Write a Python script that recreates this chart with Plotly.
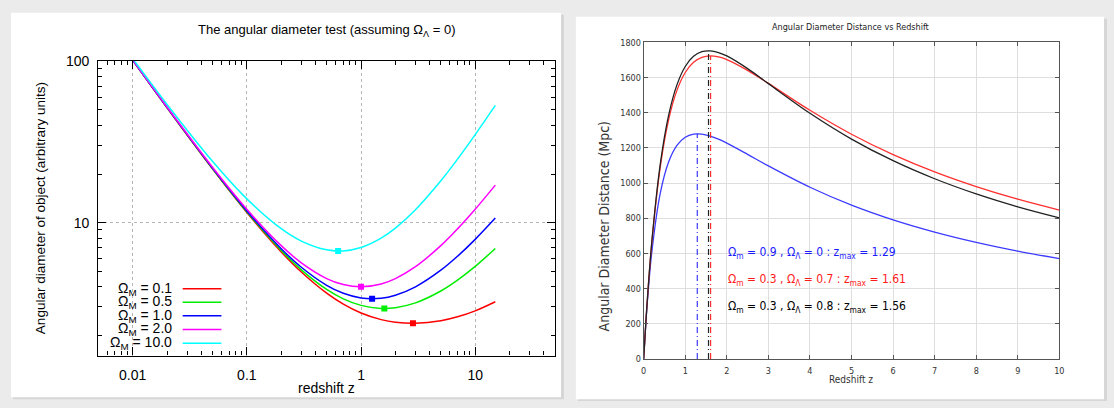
import plotly.graph_objects as go

W, H = 1114, 408


def px(x):
    return x / W


def py(y):
    return 1 - y / H


# ---------------- Left panel data (angular size, Omega_Lambda = 0) ----------------
z_left = [0.01, 0.02, 0.05, 0.1, 0.2, 0.3, 0.5, 0.7, 1.0, 1.5, 2.0, 3.0, 5.0, 7.0, 10.0, 15.0]
theta_om01 = [101.53, 51.53, 21.54, 11.554, 6.581, 4.940, 3.653, 3.124, 2.754, 2.505, 2.412, 2.376, 2.466, 2.608, 2.840, 3.234]
theta_om05 = [101.63, 51.63, 21.65, 11.673, 6.720, 5.099, 3.855, 3.371, 3.070, 2.941, 2.971, 3.183, 3.770, 4.400, 5.353, 6.916]
theta_om10 = [101.76, 51.76, 21.78, 11.818, 6.886, 5.287, 4.087, 3.648, 3.414, 3.401, 3.549, 4.000, 5.070, 6.188, 7.874, 10.667]
theta_om20 = [102.01, 52.02, 22.05, 12.1, 7.2, 5.633, 4.5, 4.129, 4.0, 4.167, 4.5, 5.333, 7.2, 9.143, 12.1, 17.067]
theta_om100 = [103.99, 53.99, 23.99, 14.025, 9.165, 7.682, 6.779, 6.681, 7.009, 8.013, 9.248, 12.023, 18.158, 24.728, 35.093, 53.27]
omega_labels = ["0.1", "0.5", "1.0", "2.0", "10.0"]
z_min = [2.85, 1.6, 1.25, 1.0, 0.63]
theta_min = [2.378, 2.939, 3.375, 4.0, 6.67]
left_colors = ["#ff0000", "#00ee00", "#0000ff", "#ff00ff", "#00ffff"]
left_xticks = [0.01, 0.1, 1, 10]
left_xticklabels = ["0.01", "0.1", "1", "10"]
left_yticks = [10, 100]
left_yticklabels = ["10", "100"]

# ---------------- Right panel data (angular diameter distance, Mpc) ----------------
z_right = [0, 0.05, 0.1, 0.2, 0.4, 0.6, 0.8, 1.0, 1.2, 1.4, 1.6, 1.8, 2.0, 2.5, 3.0, 4, 5, 6, 7, 8, 9, 10]
da_m09_l0 = [0, 194.1, 358.1, 616.1, 942.5, 1119.7, 1214.3, 1260.9, 1278.6, 1278.5, 1267.4, 1249.4, 1227.2,
             1163.4, 1097.4, 976.2, 874.7, 790.9, 721.3, 662.9, 613.2, 570.5]
da_m03_l07 = [0, 198.8, 375.1, 671.0, 1092.6, 1359.5, 1526.9, 1628.6, 1686.5, 1714.8, 1722.9, 1717.3, 1702.3,
              1641.0, 1566.6, 1413.9, 1277.8, 1161.6, 1063.4, 979.8, 908.1, 846.2]
da_m03_l08 = [0, 199.3, 376.8, 676.9, 1109.0, 1385.1, 1558.4, 1662.8, 1720.6, 1746.9, 1751.8, 1742.2, 1722.8,
              1650.8, 1565.5, 1396.9, 1250.2, 1127.2, 1024.6, 938.4, 865.1, 802.3]
z_max = [1.29, 1.61, 1.56]
da_max = [1280.3, 1722.9, 1752.0]
right_colors = ["#3b3bff", "#ff3030", "#222222"]
right_labels = [
    "Ω<sub>m</sub> = 0.9 , Ω<sub>Λ</sub> = 0 : z<sub>max</sub> = 1.29",
    "Ω<sub>m</sub> = 0.3 , Ω<sub>Λ</sub> = 0.7 : z<sub>max</sub> = 1.61",
    "Ω<sub>m</sub> = 0.3 , Ω<sub>Λ</sub> = 0.8 : z<sub>max</sub> = 1.56",
]
right_label_y = [604, 450, 296]
right_xticks = list(range(0, 11))
right_yticks = list(range(0, 1801, 200))

fig = go.Figure()

left_series = [theta_om01, theta_om05, theta_om10, theta_om20, theta_om100]
for vals, col, lab in zip(left_series, left_colors, omega_labels):
    fig.add_trace(go.Scatter(x=z_left, y=vals, mode="lines", line=dict(color=col, width=1.5, shape="spline"),
                             xaxis="x", yaxis="y", name=lab, showlegend=False))
for zm, tm, col in zip(z_min, theta_min, left_colors):
    fig.add_trace(go.Scatter(x=[zm], y=[tm], mode="markers", marker=dict(color=col, size=6, symbol="square"),
                             xaxis="x", yaxis="y", showlegend=False))

right_series = [da_m09_l0, da_m03_l07, da_m03_l08]
for vals, col in zip(right_series, right_colors):
    fig.add_trace(go.Scatter(x=z_right, y=vals, mode="lines", line=dict(color=col, width=1.3, shape="spline"),
                             xaxis="x2", yaxis="y2", showlegend=False))
for zm, dm, col in zip(z_max, da_max, right_colors):
    fig.add_trace(go.Scatter(x=[zm, zm], y=[0, dm], mode="lines",
                             line=dict(color=col, width=1.2, dash="6px,3px,1px,3px"),
                             xaxis="x2", yaxis="y2", showlegend=False))

shapes = []
# page cards
shapes.append(dict(type="rect", xref="paper", yref="paper", x0=px(10), x1=px(565), y0=py(404), y1=py(7),
                   fillcolor="#d6d6d6", line=dict(width=0), layer="below"))
shapes.append(dict(type="rect", xref="paper", yref="paper", x0=px(8), x1=px(562), y0=py(402), y1=py(5),
                   fillcolor="#ffffff", line=dict(width=0), layer="below"))
shapes.append(dict(type="rect", xref="paper", yref="paper", x0=px(579), x1=px(1112), y0=py(406), y1=py(11),
                   fillcolor="#d6d6d6", line=dict(width=0), layer="below"))
shapes.append(dict(type="rect", xref="paper", yref="paper", x0=px(577), x1=px(1109), y0=py(404), y1=py(9),
                   fillcolor="#ffffff", line=dict(width=0), layer="below"))

annotations = []
lf = "Liberation Sans, Arial, sans-serif"
# left legend (gnuplot style: text then line sample)
leg_y = [290, 304, 318, 332, 346.3]
for i, (lab, col) in enumerate(zip(omega_labels, left_colors)):
    annotations.append(dict(x=px(172), y=py(leg_y[i]), xref="paper", yref="paper", xanchor="right", yanchor="middle",
                            text="Ω<sub>M</sub> = " + lab, showarrow=False,
                            font=dict(family=lf, size=14, color="#000000")))
    shapes.append(dict(type="line", xref="paper", yref="paper", x0=px(181), x1=px(220), y0=py(leg_y[i]),
                       y1=py(leg_y[i]), line=dict(color=col, width=1.5)))

annotations.append(dict(x=px(326), y=py(23), xref="paper", yref="paper", xanchor="center", yanchor="middle",
                        text="The angular diameter test (assuming Ω<sub>Λ</sub> = 0)", showarrow=False,
                        font=dict(family=lf, size=13, color="#000")))
annotations.append(dict(x=px(326), y=py(393), xref="paper", yref="paper", xanchor="center", yanchor="middle",
                        text="redshift z", showarrow=False, font=dict(family=lf, size=14, color="#000")))
annotations.append(dict(x=px(38), y=py(207), xref="paper", yref="paper", xanchor="center", yanchor="middle",
                        text="Angular diameter of object (arbitrary units)", textangle=-90, showarrow=False,
                        font=dict(family=lf, size=13.5, color="#000")))

nf = "Liberation Sans Narrow, DejaVu Sans Condensed, Liberation Sans, sans-serif"
annotations.append(dict(x=px(854), y=py(20), xref="paper", yref="paper", xanchor="center", yanchor="middle",
                        text="Angular Diameter Distance vs Redshift", showarrow=False,
                        font=dict(family=nf, size=9, color="#222")))
annotations.append(dict(x=px(854), y=py(384), xref="paper", yref="paper", xanchor="center", yanchor="middle",
                        text="Redshift z", showarrow=False, font=dict(family=nf, size=10, color="#333")))
annotations.append(dict(x=px(605), y=py(226), xref="paper", yref="paper", xanchor="center", yanchor="middle",
                        text="Angular Diameter Distance (Mpc)", textangle=-90, showarrow=False,
                        font=dict(family=nf, size=14, color="#333")))
for lab, yv, col in zip(right_labels, right_label_y, ["#1a1aff", "#ff1a1a", "#000000"]):
    annotations.append(dict(x=1.98, y=yv, xref="x2", yref="y2", xanchor="left", yanchor="middle", text=lab,
                            showarrow=False, font=dict(family=nf, size=12, color=col)))

minor_vals_x = [v * m for v in [0.001, 0.01, 0.1, 1, 10] for m in range(2, 10)]
minor_vals_y = [v * m for v in [1, 10] for m in range(2, 10)]

fig.update_layout(
    width=W, height=H, margin=dict(l=0, r=0, t=0, b=0),
    paper_bgcolor="#ebebeb", plot_bgcolor="rgba(0,0,0,0)",
    shapes=shapes, annotations=annotations, showlegend=False,
    xaxis=dict(domain=[px(96), px(556)], type="log", range=[-2.30103, 1.69897],
               tickvals=left_xticks, ticktext=left_xticklabels, ticks="inside", ticklen=8, tickcolor="#000",
               mirror="allticks", showline=True, linecolor="#000", linewidth=1.2,
               showgrid=True, gridcolor="#b5b5b5", griddash="dot", gridwidth=1, zeroline=False,
               tickfont=dict(family=lf, size=14, color="#000"), ticklabelstandoff=7,
               minor=dict(tickvals=minor_vals_x, ticks="inside", ticklen=4, tickcolor="#000", showgrid=False),
               anchor="y"),
    yaxis=dict(domain=[py(359), py(55)], type="log", range=[0.176091, 2],
               tickvals=left_yticks, ticktext=left_yticklabels, ticks="inside", ticklen=8, tickcolor="#000",
               mirror="allticks", showline=True, linecolor="#000", linewidth=1.2,
               showgrid=True, gridcolor="#b5b5b5", griddash="dot", gridwidth=1, zeroline=False,
               tickfont=dict(family=lf, size=14, color="#000"), ticklabelstandoff=5,
               minor=dict(tickvals=minor_vals_y, ticks="inside", ticklen=4, tickcolor="#000", showgrid=False),
               anchor="x"),
    xaxis2=dict(domain=[px(645.3), px(1064)], range=[0, 10], tickvals=right_xticks,
                ticks="inside", ticklen=4, tickcolor="#555", mirror="allticks", showline=True,
                linecolor="#555", linewidth=1, showgrid=True, gridcolor="#dedede", gridwidth=1, zeroline=False,
                tickfont=dict(family=nf, size=9, color="#333"), ticklabelstandoff=3, anchor="y2"),
    yaxis2=dict(domain=[py(362.5), py(35.5)], range=[0, 1800], tickvals=right_yticks,
                ticks="inside", ticklen=4, tickcolor="#555", mirror="allticks", showline=True,
                linecolor="#555", linewidth=1, showgrid=True, gridcolor="#dedede", gridwidth=1, zeroline=False,
                tickfont=dict(family=nf, size=9, color="#333"), anchor="x2"),
)

fig.write_html("out.html", config={"displayModeBar": False},
               post_script="document.body.style.margin='0';document.body.style.padding='0';")
